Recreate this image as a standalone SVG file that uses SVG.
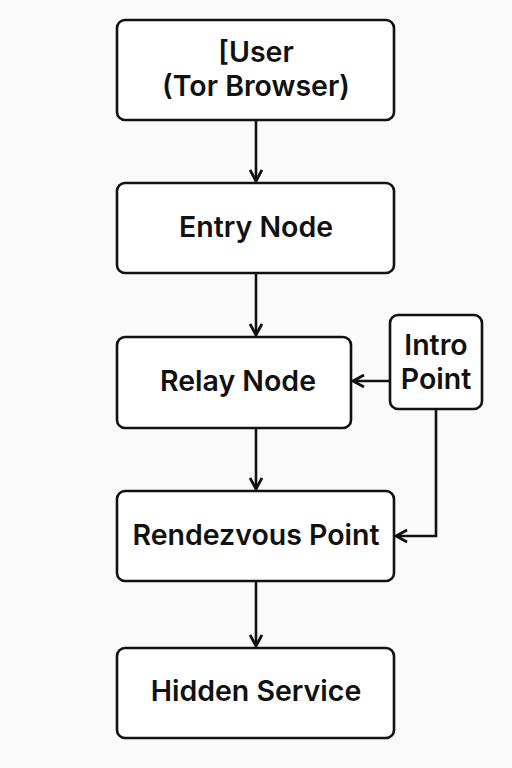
<svg xmlns="http://www.w3.org/2000/svg" width="512" height="768" viewBox="0 0 512 768">
<defs>
<marker id="arr" viewBox="0 0 14 14" refX="12.5" refY="7" markerWidth="14" markerHeight="14" markerUnits="userSpaceOnUse" orient="auto">
<path d="M1.5,1 L12.5,7 L1.5,13" fill="none" stroke="#111" stroke-width="2.8" stroke-linejoin="miter"/>
</marker>
<style>
.box{fill:#fff;stroke:#111;stroke-width:2.6}
.t{font-family:Inter,"Liberation Sans",sans-serif;font-weight:600;font-size:28.5px;fill:#111;text-anchor:middle;dominant-baseline:central}
.c{fill:none;stroke:#111;stroke-width:2.6;marker-end:url(#arr)}
</style>
</defs>
<rect width="512" height="768" fill="#fafafa"/>
<g id="connectors">
<path class="c" d="M256,120 V181"/>
<path class="c" d="M256,273 V335"/>
<path class="c" d="M256,428 V489"/>
<path class="c" d="M256,581 V646"/>
<path class="c" d="M390,381 H353"/>
<path class="c" d="M436,409 V536 H396"/>
</g>
<g id="user"><rect class="box" x="117" y="20" width="277" height="100" rx="8"/><text class="t" x="256" y="51">[User</text><text class="t" x="256" y="85">(Tor Browser)</text></g>
<g id="entry"><rect class="box" x="117" y="183" width="277" height="90" rx="8"/><text class="t" x="256" y="226">Entry Node</text></g>
<g id="relay"><rect class="box" x="117" y="337" width="234" height="91" rx="8"/><text class="t" x="238" y="380">Relay Node</text></g>
<g id="intro"><rect class="box" x="390" y="315" width="92" height="94" rx="8"/><text class="t" x="436" y="344">Intro</text><text class="t" x="436" y="378">Point</text></g>
<g id="rendezvous"><rect class="box" x="117" y="491" width="277" height="90" rx="8"/><text class="t" x="256" y="534">Rendezvous Point</text></g>
<g id="hidden"><rect class="box" x="117" y="648" width="277" height="90" rx="8"/><text class="t" x="256" y="690">Hidden Service</text></g>
</svg>
